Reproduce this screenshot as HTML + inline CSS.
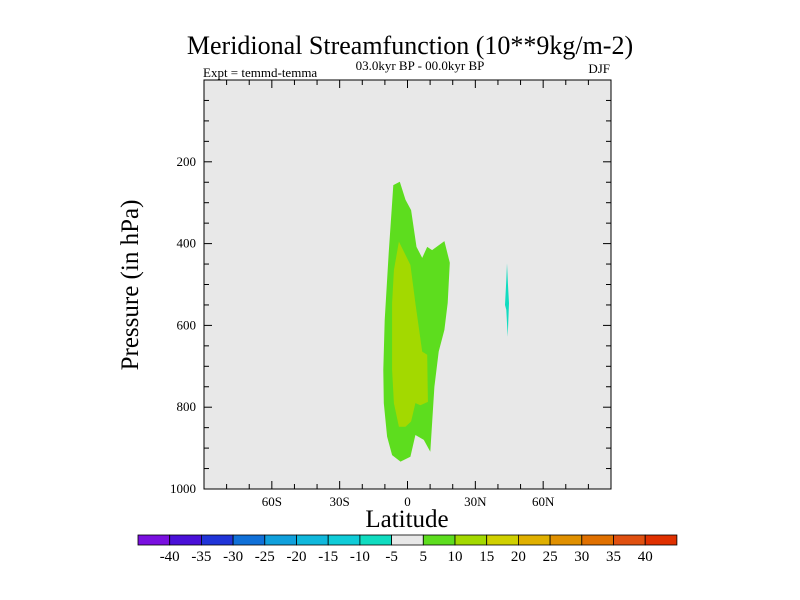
<!DOCTYPE html>
<html><head><meta charset="utf-8"><style>
body{margin:0;background:#fff;}
svg{display:block;font-family:"Liberation Serif",serif;}
</style></head><body>
<svg id="chart" width="800" height="600" viewBox="0 0 800 600">
<text x="410" y="54" font-size="26" text-anchor="middle">Meridional Streamfunction (10**9kg/m-2)</text>
<text x="203" y="77" font-size="13">Expt = temmd-temma</text>
<text x="420" y="70" font-size="13" text-anchor="middle">03.0kyr BP - 00.0kyr BP</text>
<text x="610" y="73" font-size="13" text-anchor="end">DJF</text>
<rect x="204" y="80" width="407" height="409" fill="#e8e8e8"/>
<g id="marks"></g>
<rect x="204" y="80" width="407" height="409" fill="none" stroke="#000" stroke-width="1"/>
<g id="axes"></g>
<text x="407" y="527" font-size="25" text-anchor="middle">Latitude</text>
<text transform="translate(138,285) rotate(-90)" font-size="25" text-anchor="middle">Pressure (in hPa)</text>
<g id="colorbar"></g>
</svg>
<script>
const latTicks=[-60,-30,0,30,60];
const latTickLabels=["60S","30S","0","30N","60N"];
const presTicks=[200,400,600,800,1000];
const levelLabels=["-40","-35","-30","-25","-20","-15","-10","-5","5","10","15","20","25","30","35","40"];
const levelColors=["#7a10e0","#4a10d8","#2034d8","#1070d8","#10a0dc","#10b8dc","#10ccd8","#10dcc0","#e8e8e8","#5ddd1e","#a3d900","#d0d000","#e0b000","#e09000","#e07000","#e05010","#e03000"];
const contour5=[[-6.3,257],[-3.4,249],[-0.9,293],[1.6,318],[4.0,408],[6.5,435],[8.7,408],[10.9,416],[16.3,394],[18.7,447],[17.8,545],[16.3,611],[13.8,664],[11.9,750],[10.1,909],[7.2,880],[3.5,868],[1.3,921],[-3.1,933],[-6.8,917],[-9.0,872],[-10.5,790],[-10.7,709],[-10.1,587],[-8.3,423],[-6.8,301]];
const contour10=[[-3.8,395],[1.3,452],[3.5,546],[6.5,664],[8.7,672],[9.0,787],[5.7,795],[3.5,790],[1.6,835],[-0.9,848],[-3.8,848],[-6.0,790],[-6.8,709],[-6.8,546],[-6.0,465]];
const contourNeg5=[[44.0,448],[44.4,497],[44.9,546],[44.3,628],[43.7,562],[43.1,550],[43.7,489]];

const X0=204,X1=611,Y0=80,Y1=489;
const xs=lat=>X0+(lat+90)/180*(X1-X0);
const ys=p=>Y0+p/1000*(Y1-Y0);
const NS="http://www.w3.org/2000/svg";
function mk(tag,attrs,parent){const e=document.createElementNS(NS,tag);for(const k in attrs)e.setAttribute(k,attrs[k]);parent.appendChild(e);return e;}
const marks=document.getElementById('marks');
function poly(pts,color,name){
  const e=mk('polygon',{points:pts.map(d=>xs(d[0]).toFixed(1)+','+ys(d[1]).toFixed(1)).join(' '),fill:color},marks);
  
  
}
poly(contour5,"#5ddd1e","contour-region-5-10");
poly(contour10,"#a3d900","contour-region-10-15");
poly(contourNeg5,"#10dcc0","contour-region-neg10-neg5");

const axes=document.getElementById('axes');
for(let lat=-80;lat<=80;lat+=10){
  const major=lat%30===0, L=major?8:5, x=xs(lat);
  let t=mk('line',{x1:x,x2:x,y1:Y1,y2:Y1-L,stroke:'#000'},axes);
  
  
  t=mk('line',{x1:x,x2:x,y1:Y0,y2:Y0+L,stroke:'#000'},axes);
  
  
}
latTicks.forEach((lat,i)=>{
  const t=mk('text',{x:xs(lat),y:506,'font-size':13,'text-anchor':'middle'},axes);
  t.textContent=latTickLabels[i];
  
  
});
for(let p=50;p<=950;p+=50){
  const major=p%200===0, L=major?8:5, y=ys(p);
  let t=mk('line',{x1:X0,x2:X0+L,y1:y,y2:y,stroke:'#000'},axes);
  
  
  t=mk('line',{x1:X1,x2:X1-L,y1:y,y2:y,stroke:'#000'},axes);
  
  
}
presTicks.forEach(p=>{
  const t=mk('text',{x:196,y:ys(p)+4,'font-size':13,'text-anchor':'end'},axes);
  t.textContent=p;
  
  
});

const cb=document.getElementById('colorbar');
const CB0=138,CBW=31.7,CBY=535,CBH=10;
levelColors.forEach((c,i)=>{
  const r=mk('rect',{x:CB0+i*CBW,y:CBY,width:CBW,height:CBH,fill:c,stroke:'#000','stroke-width':0.8},cb);
  
  
});
levelLabels.forEach((l,i)=>{
  const t=mk('text',{x:CB0+(i+1)*CBW,y:561,'font-size':15,'text-anchor':'middle'},cb);
  t.textContent=l;
  
  
});
</script>
</body></html>
